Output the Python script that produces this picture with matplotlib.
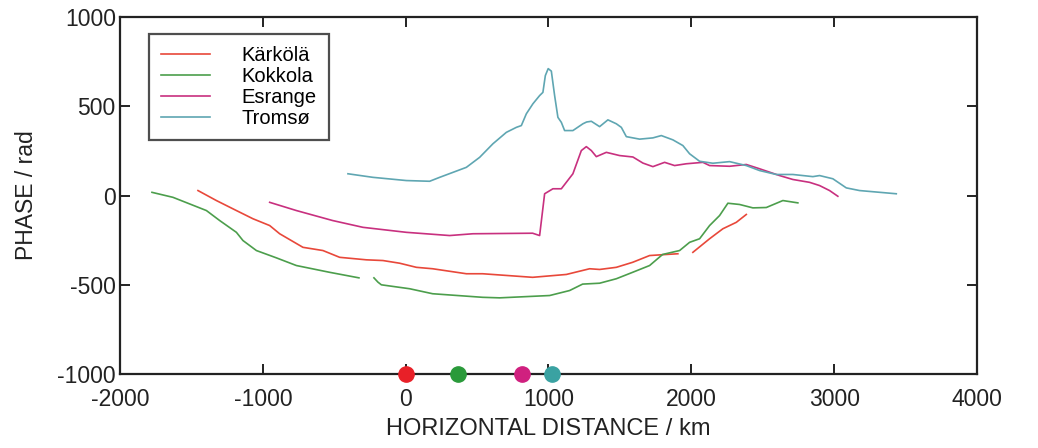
import numpy as np
import matplotlib
matplotlib.use("Agg")
import matplotlib.pyplot as plt

plt.rcParams['font.family'] = ['Liberation Sans', 'DejaVu Sans']
plt.rcParams['axes.unicode_minus'] = False

nan = np.nan
# Kärkölä (red); NaN marks a gap in the trace
kar_x = [-1454, -1325, -1185, -1069, -952, -882, -719, -579, -462, -275, -159, -42, 75, 189,
         425, 539, 889, 1125, 1288, 1358, 1475, 1589, 1708, 1825, 1906, nan,
         2011, 2128, 2221, 2315, 2385]
kar_y = [28, -28, -84, -130, -168, -214, -290, -308, -346, -360, -364, -379, -402, -410,
         -438, -438, -458, -442, -410, -414, -402, -374, -336, -330, -326, nan,
         -318, -242, -186, -150, -106]

# Kokkola (green)
kok_x = [-1776, -1629, -1395, -1302, -1185, -1139, -1045, -905, -765, -532, -327, nan,
         -222, -194, -170, 28, 189, 539, 658, 1008, 1148, 1239, 1358, 1475, 1589, 1708,
         1799, 1918, 1988, 2058, 2128, 2198, 2256, 2338, 2431, 2525, 2641, 2746]
kok_y = [18, -10, -84, -140, -206, -252, -308, -349, -392, -430, -461, nan,
         -461, -485, -500, -522, -550, -570, -573, -560, -532, -496, -491, -466, -430, -392,
         -330, -308, -262, -242, -168, -112, -43, -50, -69, -67, -28, -41]

# Esrange (magenta)
esr_x = [-952, -765, -511, -299, 5, 308, 471, 889, 938, 973, 1031, 1090, 1171, 1230, 1265,
         1300, 1335, 1405, 1498, 1591, 1661, 1731, 1813, 1883, 1965, 2081, 2128, 2268, 2385,
         2478, 2618, 2711, 2828, 2898, 2968, 3026]
esr_y = [-38, -84, -140, -178, -206, -224, -214, -211, -224, 10, 38, 38, 122, 252, 274,
         252, 218, 242, 224, 216, 182, 162, 186, 168, 178, 186, 168, 164, 174,
         150, 112, 90, 74, 56, 28, -4]

# Tromsø (teal)
tro_x = [-404, -229, 5, 168, 238, 425, 518, 611, 705, 775, 810, 845, 891, 938, 961, 978,
         998, 1020, 1043, 1066, 1090, 1113, 1171, 1241, 1267, 1300, 1358, 1416, 1475, 1510,
         1545, 1638, 1731, 1790, 1871, 1941, 1988, 2058, 2151, 2268, 2385, 2478, 2595, 2711,
         2851, 2898, 2991, 3085, 3178, 3435]
tro_y = [122, 102, 84, 80, 102, 158, 214, 290, 354, 382, 392, 458, 514, 560, 578, 672,
         711, 697, 560, 438, 410, 364, 364, 402, 412, 416, 386, 424, 402, 382,
         330, 316, 323, 336, 312, 280, 234, 192, 181, 190, 168, 140, 118, 118,
         106, 112, 94, 43, 28, 10]

station_names = ["Kärkölä", "Kokkola", "Esrange", "Tromsø"]
station_x = [0, 364, 814, 1022]

line_colors = ["#e8483a", "#4c9e4c", "#c8307f", "#5fa6b2"]
dot_colors = ["#e82028", "#2a9a3a", "#d0207f", "#3aa2a2"]

x_ticks = [-2000, -1000, 0, 1000, 2000, 3000, 4000]
y_ticks = [-1000, -500, 0, 500, 1000]

fig = plt.figure(figsize=(10.38, 4.48), dpi=100)
ax = fig.add_axes([0.1156, 0.165, 0.8256, 0.797])

series = [(kar_x, kar_y), (kok_x, kok_y), (esr_x, esr_y), (tro_x, tro_y)]
for (xs, ys), name, c in zip(series, station_names, line_colors):
    ax.plot(xs, ys, color=c, lw=1.2, label=name)

for sx, c in zip(station_x, dot_colors):
    ax.plot([sx], [-1000], 'o', ms=11, color=c, mec=c, clip_on=False, zorder=5)

ax.set_xlim(-2000, 4000)
ax.set_ylim(-1000, 1000)
ax.set_xticks(x_ticks)
ax.set_yticks(y_ticks)
ax.tick_params(direction='in', length=7, width=1.4, top=True, right=True,
               labelsize=16.5, colors='#222222')
ax.tick_params(axis='x', pad=10)
ax.tick_params(axis='y', pad=3)
for sp in ax.spines.values():
    sp.set_linewidth(1.6)
    sp.set_color('#222222')

ax.set_xlabel("HORIZONTAL DISTANCE / km", fontsize=17, color='#222222', labelpad=5)
ax.set_ylabel("PHASE / rad", fontsize=16.5, color='#222222', labelpad=14)

leg = ax.legend(loc='upper left', bbox_to_anchor=(0.034, 0.952), fontsize=14.5,
                frameon=True, fancybox=False, edgecolor='#222222', handlelength=2.4,
                handletextpad=1.6, labelspacing=0.1, borderpad=0.6, borderaxespad=0)
leg.get_frame().set_linewidth(1.6)

fig.savefig("out.png", dpi=100, facecolor='white')
